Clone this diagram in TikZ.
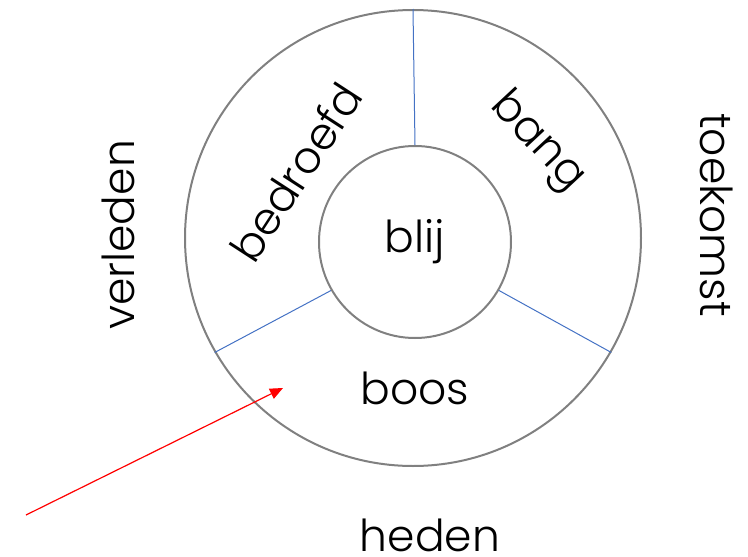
\documentclass[tikz,border=0pt]{standalone}
\usepackage{fontspec}
\setmainfont{Poppins}[UprightFont={* Light}]
\usetikzlibrary{arrows.meta,positioning}

\begin{document}
\begin{tikzpicture}[x=1pt, y=-1pt, >={Triangle[length=13pt,width=11pt]}]
	\tikzstyle{rim}=[circle, draw=gray, line width=2pt, inner sep=0pt]
	\tikzstyle{spoke}=[draw={rgb,255:red,68;green,114;blue,196}, line width=1pt]
	\tikzstyle{word}=[font=\fontsize{44}{50}\selectfont, inner sep=0pt]
	\useasboundingbox (0,0) rectangle (748,557);
	\node[rim, minimum size=456pt] (ring) at (413,238) {};
	\node[rim, minimum size=192pt, word] (core) at (415,242) {blij};
	% three sectors of the ring
	\path[spoke]
	(core.90) -- (ring.90)
	(core.210) -- (ring.210)
	(core.330) -- (ring.330);
	\node[word, rotate=57] (sad) at (296,172) {bedroefd};
	\node[word, rotate=-47] (afraid) at (537,142) {bang};
	\node[word] (angry) at (415,388) {boos};
	% time around the wheel
	\node[word, rotate=90] (past) at (118,235) {verleden};
	\node[word, rotate=-90] (future) at (717,215) {toekomst};
	\node[word] (present) at (430,535) {heden};
	\coordinate (tail) at (26,515);
	\coordinate (tip) at (283,388);
	\draw[->, red, line width=1.2pt] (tail) -- (tip);
\end{tikzpicture}
\end{document}
